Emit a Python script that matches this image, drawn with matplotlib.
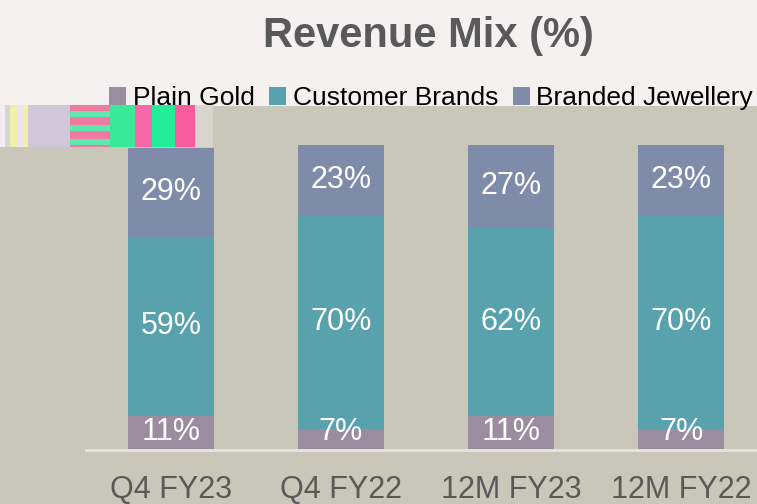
import matplotlib
matplotlib.use("Agg")
import matplotlib.pyplot as plt
from matplotlib.patches import Rectangle
import numpy as np

plt.rcParams['font.family'] = ['Liberation Sans', 'DejaVu Sans']

periods = ["Q4 FY23", "Q4 FY22", "12M FY23", "12M FY22"]
plain_gold = [11, 7, 11, 7]
customer_brands = [59, 70, 62, 70]
branded_jewellery = [29, 23, 27, 23]

series = [("Plain Gold", plain_gold, "#9b8d9f"),
          ("Customer Brands", customer_brands, "#58a2ae"),
          ("Branded Jewellery", branded_jewellery, "#7f8ca9")]

fig = plt.figure(figsize=(7.57, 5.04), dpi=100)
fig.patch.set_facecolor("#c9c7b9")
# light band behind title and legend
fig.add_artist(Rectangle((0, 1 - 106/504), 1, 106/504, transform=fig.transFigure,
                         facecolor="#f5f1f0", edgecolor="none", zorder=0))

# glitchy strip on the left edge of the picture
strip = [(0, 5, "#f3eef4"), (5, 10, "#d8d8d0"), (10, 17, "#f2f0a8"), (17, 24, "#ece4f4"),
         (24, 28, "#f0f0a0"), (28, 70, "#d0c8d8"), (70, 110, "#f07aa0"), (110, 135, "#3ae89a"),
         (135, 152, "#f868a8"), (152, 175, "#22ee9a"), (175, 195, "#f85c9c"), (195, 213, "#d8d6cc")]
for x0, x1, c in strip:
    fig.add_artist(Rectangle((x0/757, 1 - 147/504), (x1 - x0)/757, 42/504,
                             transform=fig.transFigure, facecolor=c, edgecolor="none", zorder=1))
for yy in (112, 126, 140):
    fig.add_artist(Rectangle((70/757, 1 - (yy + 5)/504), 40/757, 6/504, transform=fig.transFigure,
                             facecolor="#5ee8b0", edgecolor="none", zorder=1))

ax = fig.add_axes([86/757, 54/504, 680/757, 305/504])
ax.set_facecolor("none")
x = np.arange(len(periods))
bottom = np.zeros(len(periods))
for name, vals, col in series:
    vals = np.array(vals, dtype=float)
    ax.bar(x, vals, 0.51, bottom=bottom, color=col, label=name, zorder=2)
    for xi, b, v in zip(x, bottom, vals):
        ax.text(xi, max(b + v/2, 6), f"{int(v)}%", ha="center", va="center",
                color="white", fontsize=22, zorder=3)
    bottom += vals

ax.set_xlim(-0.5, 3.5)
ax.set_ylim(0, 100)
ax.set_xticks(x)
ax.set_xticklabels(periods, fontsize=22, color="#595959")
ax.tick_params(axis="x", length=0, pad=18)
ax.set_yticks([])
for s in ("top", "right", "left"):
    ax.spines[s].set_visible(False)
ax.spines["bottom"].set_color("#e8e5de")
ax.spines["bottom"].set_linewidth(2)

fig.text(428/757, 1 - 36/504, "Revenue Mix (%)", ha="center", va="center",
         fontsize=30, fontweight="bold", color="#595959")

leg = fig.legend(loc="center", bbox_to_anchor=(431/757, 1 - 98/504), ncol=3, frameon=False,
                 fontsize=19, handlelength=0.65, handleheight=0.65, handletextpad=0.25,
                 columnspacing=0.55, borderaxespad=0)

fig.savefig("out.png", dpi=100, facecolor=fig.get_facecolor())
